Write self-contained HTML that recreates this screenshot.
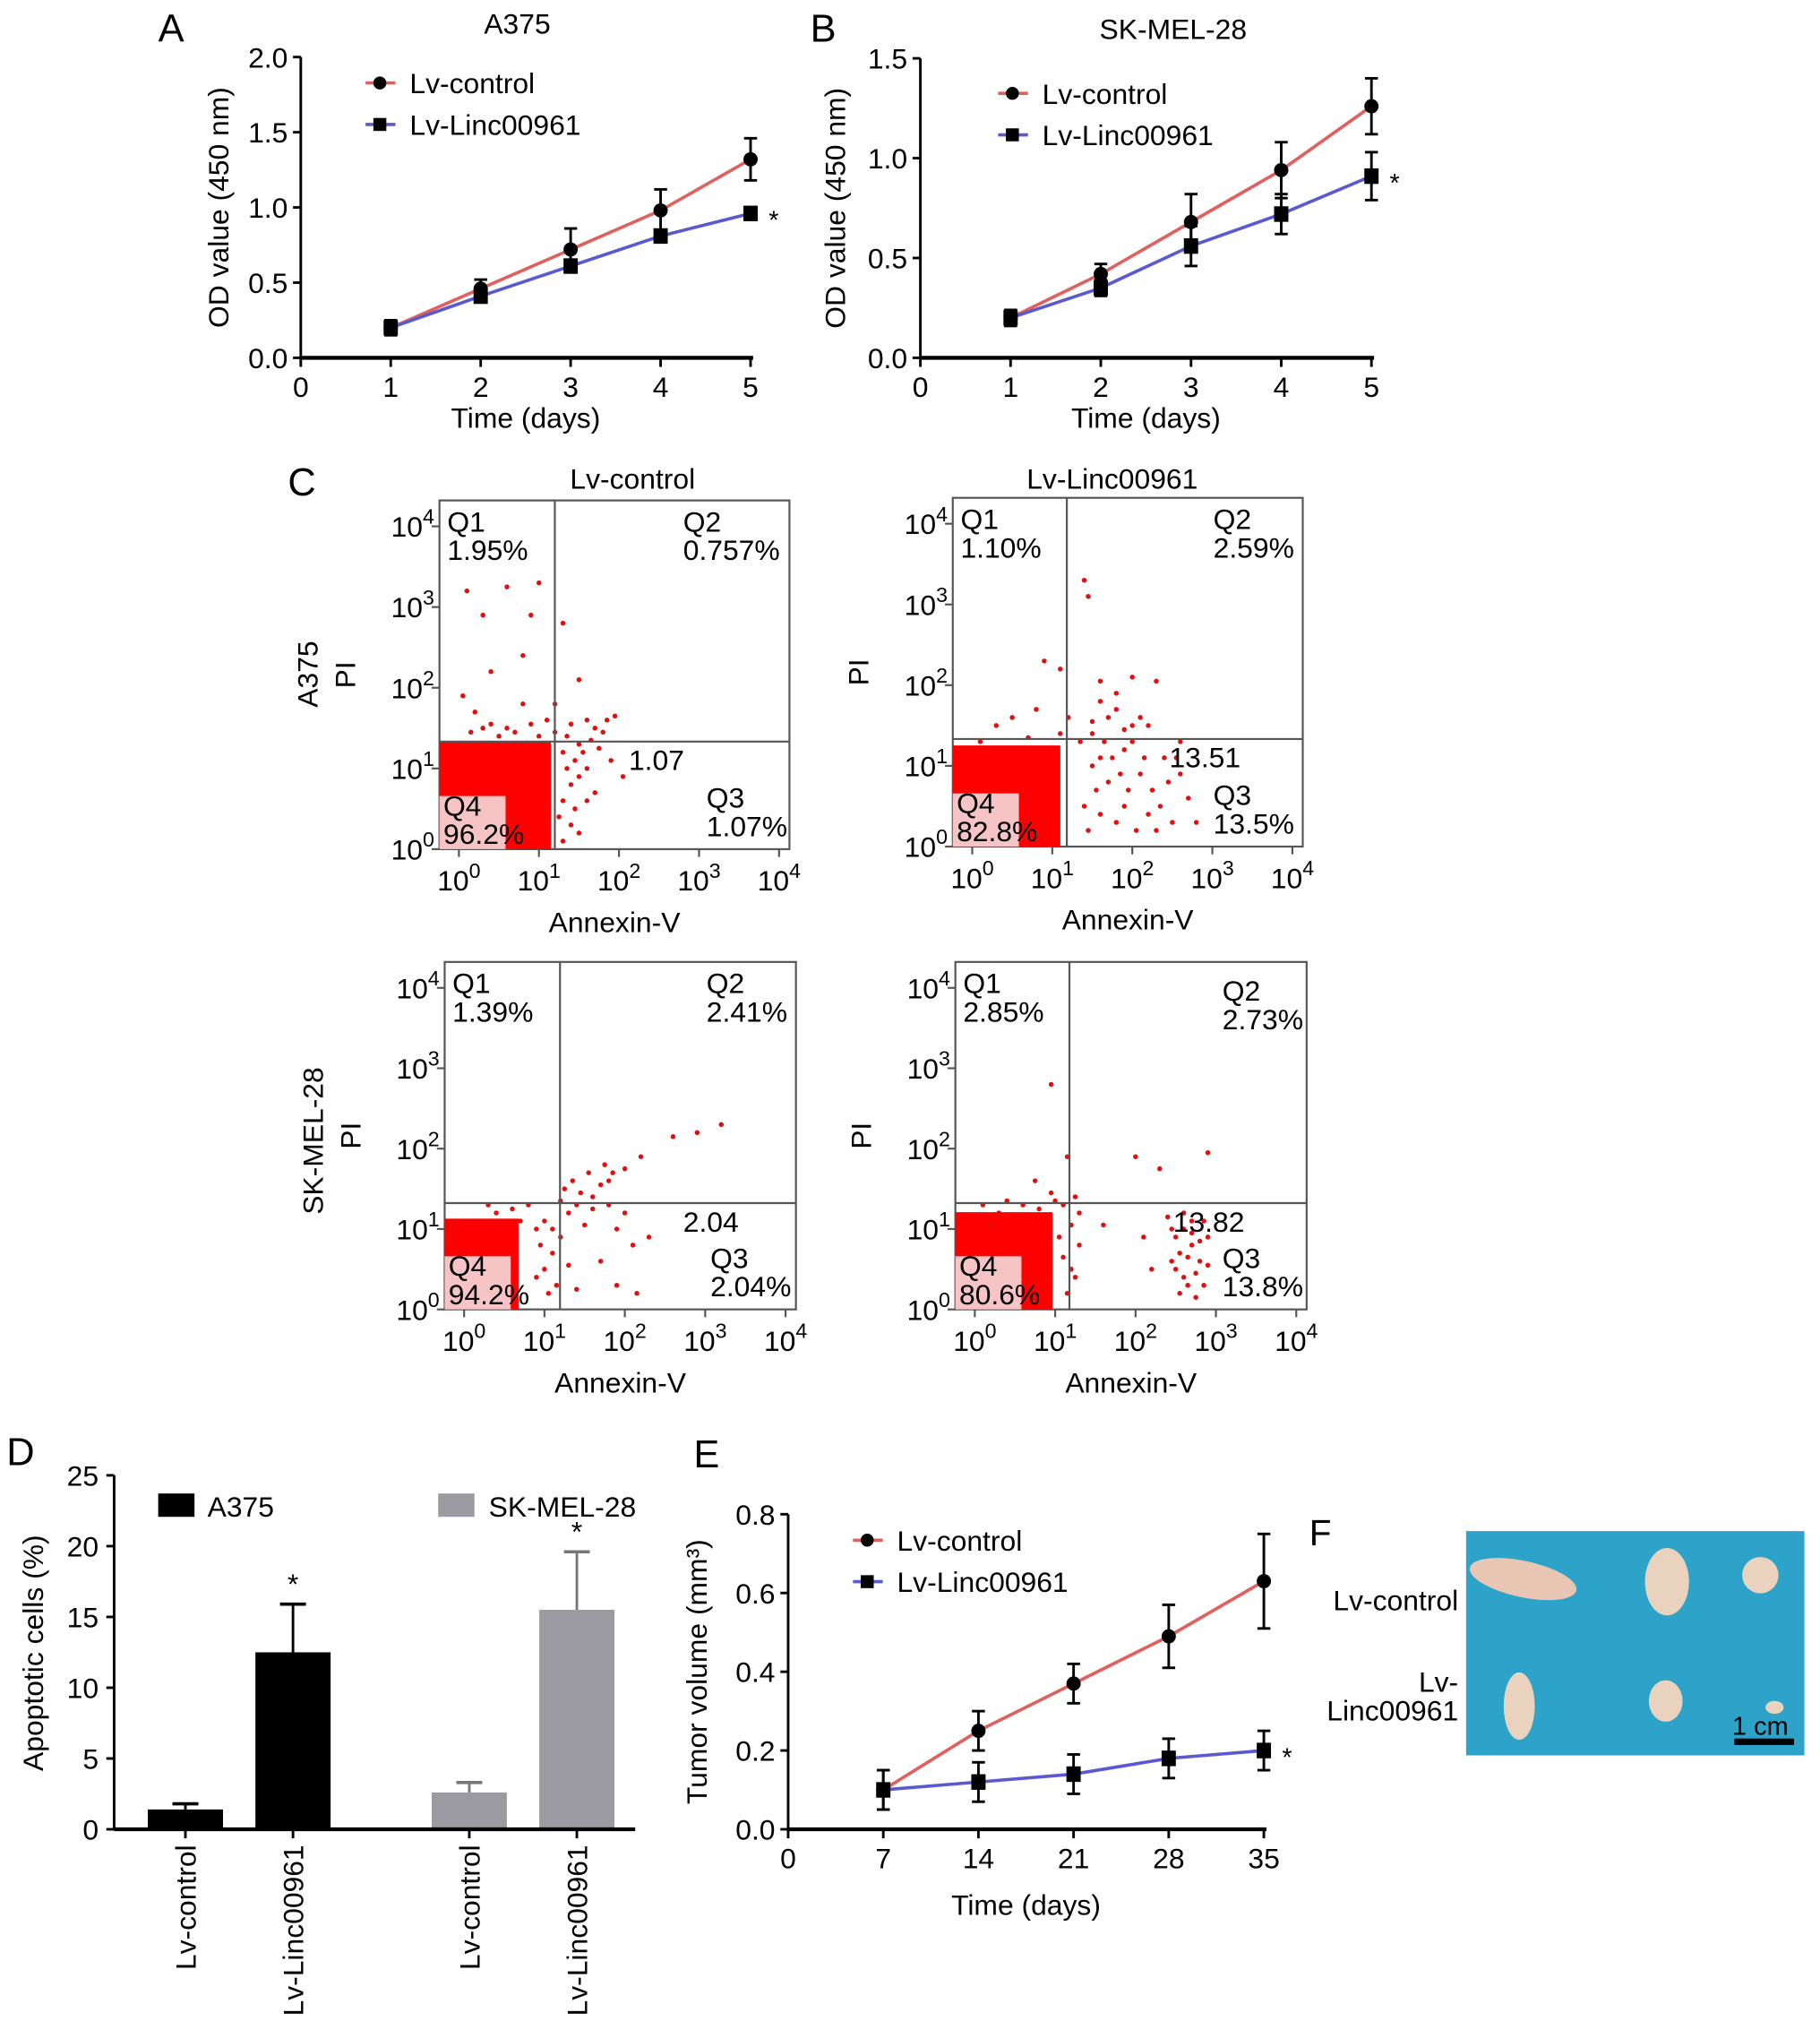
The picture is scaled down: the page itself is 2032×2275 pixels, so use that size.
<!DOCTYPE html>
<html><head><meta charset="utf-8"><style>
html,body{margin:0;padding:0;background:#fff}
svg{display:block;font-family:"Liberation Sans",sans-serif}
</style></head><body>
<svg id="fig" width="2032" height="2275" viewBox="0 0 1404 1572">
<g id="root"></g>
</svg>
<script>
// ===== Panel A data =====
const aDays=[1,2,3,4,5];
const aCtrl=[0.2,0.46,0.72,0.98,1.32];
const aCtrlErr=[0.05,0.06,0.14,0.14,0.14];
const aLinc=[0.2,0.41,0.61,0.81,0.96];
const aLincErr=[0.04,0.04,0.04,0.04,0.03];
const aYTicks=["0.0","0.5","1.0","1.5","2.0"];
// ===== Panel B data =====
const bCtrl=[0.2,0.42,0.68,0.94,1.26];
const bCtrlErr=[0.04,0.05,0.14,0.14,0.14];
const bLinc=[0.2,0.35,0.56,0.72,0.91];
const bLincErr=[0.04,0.04,0.1,0.1,0.12];
const bYTicks=["0.0","0.5","1.0","1.5"];
// ===== Panel D data =====
const dCats=["Lv-control","Lv-Linc00961","Lv-control","Lv-Linc00961"];
const dVals=[1.4,12.5,2.6,15.5];
const dErr=[0.4,3.4,0.7,4.1];
const dYTicks=["0","5","10","15","20","25"];
// ===== Panel E data =====
const eDays=[7,14,21,28,35];
const eCtrl=[0.1,0.25,0.37,0.49,0.63];
const eCtrlErr=[0.05,0.05,0.05,0.08,0.12];
const eLinc=[0.1,0.12,0.14,0.18,0.2];
const eLincErr=[0.05,0.05,0.05,0.05,0.05];
const eYTicks=["0.0","0.2","0.4","0.6","0.8"];
// ===== Panel C scatter (log10 annexin, log10 PI) =====
const c1Pts=[[0.1,3.2],[0.3,2.9],[0.6,3.25],[1.0,3.3],[0.9,2.9],[0.4,2.2],[0.8,2.4],[1.3,2.8],[1.5,2.1],[1.2,1.8],[1.4,1.55],[1.6,1.6],[1.7,1.5],[1.8,1.45],[1.5,1.3],[1.9,1.1],[2.05,0.9],[1.6,0.6],[0.2,1.7],[0.6,1.5],[1.1,1.6],[1.35,1.0],[1.5,0.2],[0.05,1.9],[1.25,0.4],
 [1.3,1.2],[1.35,1.4],[1.4,0.8],[1.45,1.1],[1.3,0.6],[1.5,0.9],[1.55,1.2],[1.65,1.35],[1.75,1.25],[1.85,1.6],[1.95,1.65],[1.4,0.3],[1.3,0.1],[1.45,0.5],[0.3,1.5],[0.7,1.45],[0.9,1.55],[1.0,1.4],[0.5,1.4],[1.2,1.45],[0.15,1.45],[0.8,1.8],[0.4,1.55],[1.6,1.0],[1.7,0.7]];
const c2Pts=[[1.4,3.3],[1.45,3.1],[0.9,2.3],[1.1,2.2],[1.6,2.05],[2.0,2.1],[2.3,2.05],[1.8,1.7],[2.2,1.5],[1.5,1.4],[1.9,1.2],[2.4,1.1],[2.6,0.9],[2.7,0.6],[2.5,0.3],[2.2,0.4],[1.7,0.8],[1.9,0.5],[2.1,0.9],[2.3,0.2],[1.6,1.1],[0.5,1.6],[0.8,1.7],[2.8,0.3],[2.6,1.3],
 [1.5,1.0],[1.55,0.7],[1.6,0.4],[1.65,1.3],[1.75,1.1],[1.8,0.3],[1.85,0.9],[1.95,0.7],[2.0,1.3],[2.05,0.2],[2.15,1.1],[2.25,0.7],[2.35,0.5],[2.45,0.8],[2.55,1.1],[1.45,0.2],[1.5,1.55],[1.7,1.6],[1.9,1.45],[2.1,1.6],[1.6,1.8],[1.8,1.9],[2.0,1.5],[1.35,1.3],[1.4,0.5],[0.3,1.5],[0.7,1.35],[1.1,1.4],[1.2,1.6],[0.1,1.3]];
const c3Pts=[[3.2,2.3],[2.9,2.2],[2.6,2.15],[2.2,1.9],[2.0,1.75],[1.8,1.6],[1.6,1.4],[1.4,1.3],[1.3,1.2],[1.5,1.05],[1.9,1.0],[2.1,0.8],[1.7,0.6],[1.9,0.3],[2.15,0.2],[1.4,0.25],[0.8,1.3],[1.2,1.35],[1.1,0.7],[0.9,0.4],[1.3,0.55],[2.3,0.9],
 [1.0,1.1],[1.1,1.0],[1.2,0.9],[1.25,1.5],[1.35,1.6],[1.45,1.45],[1.55,1.7],[1.7,1.55],[1.75,1.8],[1.85,1.7],[0.95,0.8],[1.0,0.5],[1.05,0.2],[0.9,1.0],[0.6,1.25],[0.4,1.2],[0.7,1.1],[1.15,0.3],[0.3,1.3],[1.6,1.25],[1.8,1.3],[2.0,1.2]];
const c4Pts=[[0.95,2.8],[1.15,1.9],[0.75,1.6],[0.95,1.45],[2.0,1.9],[2.3,1.75],[2.9,1.95],[1.6,1.05],[2.4,1.15],[2.6,1.0],[2.7,0.8],[2.8,0.6],[2.5,0.5],[2.65,0.3],[2.9,0.9],[2.75,0.15],[2.55,0.7],[2.45,1.0],[2.1,0.9],[1.3,1.2],[0.4,1.35],[0.2,1.05],[1.25,0.4],[2.2,0.5],[2.85,1.1],
 [2.6,0.4],[2.7,1.1],[2.5,0.9],[2.8,0.85],[2.65,0.65],[2.75,0.45],[2.55,0.2],[2.85,0.3],[2.6,1.2],[2.7,0.95],[2.45,0.6],[2.9,0.55],[1.1,1.3],[1.2,1.05],[1.3,0.8],[1.2,0.5],[1.15,0.2],[1.25,1.4],[0.6,1.3],[0.8,1.25],[1.0,1.35],[0.3,1.2],[0.1,1.3],[1.05,0.9],[1.1,0.65]];

const NS="http://www.w3.org/2000/svg";
const root=document.getElementById('root');
function el(tag,attrs,parent,txt){const e=document.createElementNS(NS,tag);for(const k in attrs)e.setAttribute(k,attrs[k]);if(txt!==undefined)e.textContent=txt;(parent||root).appendChild(e);return e;}
function T(x,y,s,size,opts,name){opts=opts||{};const a={x:x,y:y,'font-size':size,fill:opts.fill||'#000'};if(opts.anchor)a['text-anchor']=opts.anchor;if(opts.rot!==undefined)a.transform='rotate('+opts.rot+' '+x+' '+y+')';const t=el('text',a,opts.parent,s);return t;}
function P(x,y,exp,anchor,parent,name){const t=el('text',{x:x,y:y,'font-size':22,'text-anchor':anchor,fill:'#000'},parent);
  el('tspan',{},t,'10');el('tspan',{dy:-10,'font-size':16},t,String(exp));return t;}
function L(x1,y1,x2,y2,w,c,p){return el('line',{x1:x1,y1:y1,x2:x2,y2:y2,stroke:c||'#000','stroke-width':w||2},p);}

// ===== line chart helper =====
function lineChart(cfg){
  const g=el('g',{});
  const sx=v=>cfg.x0+(v-cfg.xmin)/(cfg.xmax-cfg.xmin)*(cfg.x1-cfg.x0);
  const sy=v=>cfg.y0-(v/cfg.ymax)*(cfg.y0-cfg.y1);
  L(cfg.x0,cfg.y0,cfg.x0,cfg.y1,2,'#000',g);
  L(cfg.x0,cfg.y0,cfg.x1+2,cfg.y0,3,'#000',g);
  cfg.yticks.forEach((t,i)=>{const v=i*cfg.ymax/(cfg.yticks.length-1);const y=sy(v);L(cfg.x0-6,y,cfg.x0,y,2,'#000',g);T(cfg.x0-10,y+8,t,22,{anchor:'end',parent:g},'y-tick-label');});
  cfg.xticks.forEach(v=>{const x=sx(v);L(x,cfg.y0,x,cfg.y0+7,2,'#000',g);T(x,cfg.y0+30,String(v),22,{anchor:'middle',parent:g},'x-tick-label');});
  [[cfg.ctrl,cfg.ctrlErr,'#e0605e','circle','series-lv-control'],[cfg.linc,cfg.lincErr,'#5a5ad0','square','series-lv-linc00961']].forEach(s=>{
    const sg=el('g',{},g);
    const pts=cfg.xs.map((d,i)=>sx(d)+','+sy(s[0][i])).join(' ');
    el('polyline',{points:pts,fill:'none',stroke:s[2],'stroke-width':2.5},sg);
    cfg.xs.forEach((d,i)=>{const x=sx(d),y=sy(s[0][i]),e=s[1][i];
      L(x,sy(s[0][i]+e),x,sy(s[0][i]-e),2,'#000',sg);L(x-5,sy(s[0][i]+e),x+5,sy(s[0][i]+e),2,'#000',sg);L(x-5,sy(s[0][i]-e),x+5,sy(s[0][i]-e),2,'#000',sg);
      let m;if(s[3]==='circle')m=el('circle',{cx:x,cy:y,r:5.5,fill:'#000'},sg);else m=el('rect',{x:x-5.5,y:y-6,width:11,height:12,fill:'#000'},sg);
      });
  });
  const lg=el('g',{},g);
  L(cfg.lx,cfg.ly,cfg.lx+23,cfg.ly,2.5,'#e0605e',lg);el('circle',{cx:cfg.lx+11,cy:cfg.ly,r:5,fill:'#000'},lg);
  T(cfg.lx+34,cfg.ly+8,'Lv-control',22,{parent:lg},'legend-entry');
  L(cfg.lx,cfg.ly+32,cfg.lx+23,cfg.ly+32,2.5,'#5a5ad0',lg);el('rect',{x:cfg.lx+6,y:cfg.ly+27,width:10,height:10,fill:'#000'},lg);
  T(cfg.lx+34,cfg.ly+40,'Lv-Linc00961',22,{parent:lg},'legend-entry');
  const lx=sx(cfg.xs[4]);T(lx+14,sy(cfg.linc[4])+12,'*',20,{parent:g},'significance-star');
  T(cfg.ylx,(cfg.y0+cfg.y1)/2,cfg.ylabel,22,{anchor:'middle',rot:-90,parent:g},'y-axis-title');
  T((cfg.x0+cfg.x1)/2,cfg.y0+cfg.xtdy,'Time (days)',22,{anchor:'middle',parent:g},'x-axis-title');
  return g;
}
lineChart({name:'panel-a-chart',x0:232,x1:579,xmin:0,xmax:5,y0:276,y1:44,ymax:2.0,yticks:aYTicks,xticks:[0,1,2,3,4,5],xs:aDays,ctrl:aCtrl,ctrlErr:aCtrlErr,linc:aLinc,lincErr:aLincErr,lx:282,ly:64,ylx:176,ylabel:'OD value (450 nm)',xtdy:54});
lineChart({name:'panel-b-chart',x0:710,x1:1058,xmin:0,xmax:5,y0:276,y1:45,ymax:1.5,yticks:bYTicks,xticks:[0,1,2,3,4,5],xs:aDays,ctrl:bCtrl,ctrlErr:bCtrlErr,linc:bLinc,lincErr:bLincErr,lx:770,ly:72,ylx:652,ylabel:'OD value (450 nm)',xtdy:54});
lineChart({name:'panel-e-chart',x0:608,x1:975,xmin:0,xmax:35,y0:1411,y1:1168,ymax:0.8,yticks:eYTicks,xticks:[0,7,14,21,28,35],xs:eDays,ctrl:eCtrl,ctrlErr:eCtrlErr,linc:eLinc,lincErr:eLincErr,lx:658,ly:1188,ylx:545,ylabel:'Tumor volume (mm³)',xtdy:66});
T(399,26,'A375',22,{anchor:'middle'},'chart-title-a375');
T(905,30,'SK-MEL-28',22,{anchor:'middle'},'chart-title-sk-mel-28');
T(122,32,'A',30,{},'panel-label-a');T(625,32,'B',30,{},'panel-label-b');
T(222,382,'C',30,{},'panel-label-c');T(5,1130,'D',30,{},'panel-label-d');
T(535,1132,'E',30,{},'panel-label-e');T(1010,1192,'F',28,{},'panel-label-f');

// ===== Flow plots =====
function flow(cfg){
  const g=el('g',{});
  const ax0=cfg.x0+15,ax1=cfg.x1-8,ay0=cfg.y1,ay1=cfg.y0+20;
  const sx=v=>ax0+v/4*(ax1-ax0), sy=v=>ay0-v/4*(ay0-ay1);
  el('rect',{x:cfg.x0,y:cfg.y0,width:cfg.x1-cfg.x0,height:cfg.y1-cfg.y0,fill:'#fff',stroke:'#555','stroke-width':1.5},g);
  el('rect',{x:cfg.x0,y:cfg.dy,width:cfg.dx-cfg.x0,height:cfg.y1-cfg.dy,fill:'#f00'},g);
  cfg.pts.forEach(p=>{const c=el('circle',{cx:sx(p[0]),cy:sy(p[1]),r:1.9,fill:'#e01010'},g);});
  el('rect',{x:cfg.x0,y:cfg.y1-41,width:51,height:41,fill:'#f6c4c4'},g);
  L(cfg.gx,cfg.y0,cfg.gx,cfg.y1,1.5,'#555',g);L(cfg.x0,cfg.gy,cfg.x1,cfg.gy,1.5,'#555',g);
  for(let i=0;i<5;i++){P(cfg.x0-4,sy(i)+8,i,'end',g,'y-tick-label');P(sx(i),cfg.y1+32,i,'middle',g,'x-tick-label');
    L(sx(i),cfg.y1,sx(i),cfg.y1+6,1.5,'#555',g);L(cfg.x0-6,sy(i),cfg.x0,sy(i),1.5,'#555',g);}
  T((cfg.x0+cfg.x1)/2,cfg.y1+64,'Annexin-V',22,{anchor:'middle',parent:g},'x-axis-title');
  T(cfg.x0-65,(cfg.y0+cfg.y1)/2,'PI',22,{anchor:'middle',rot:-90,parent:g},'y-axis-title');
  const x0=cfg.x0,y0=cfg.y0,y1=cfg.y1;
  T(x0+6,y0+24,'Q1',22,{parent:g},'quadrant-label');T(x0+6,y0+46,cfg.q1,22,{parent:g},'quadrant-value');
  T(cfg.q2x,y0+24+cfg.q2dy,'Q2',22,{parent:g},'quadrant-label');T(cfg.q2x,y0+46+cfg.q2dy,cfg.q2,22,{parent:g},'quadrant-value');
  T(cfg.cx,cfg.gy+22,cfg.c,22,{parent:g},'gate-value');
  T(cfg.q3x,y1-32,'Q3',22,{parent:g},'quadrant-label');T(cfg.q3x,y1-10,cfg.q3,22,{parent:g},'quadrant-value');
  T(x0+3,y1-26,'Q4',22,{parent:g},'quadrant-label');T(x0+3,y1-4,cfg.q4,22,{parent:g},'quadrant-value');
}
flow({name:'flow-a375-control',x0:339,x1:609,y0:386,y1:655,gx:428,gy:572,dx:425,dy:572,pts:c1Pts,q1:'1.95%',q2x:527,q2:'0.757%',q2dy:0,c:'1.07',cx:485,q3x:545,q3:'1.07%',q4:'96.2%'});
flow({name:'flow-a375-linc',x0:735,x1:1005,y0:384,y1:653,gx:823,gy:570,dx:818,dy:575,pts:c2Pts,q1:'1.10%',q2x:936,q2:'2.59%',q2dy:0,c:'13.51',cx:902,q3x:936,q3:'13.5%',q4:'82.8%'});
flow({name:'flow-sk-control',x0:343,x1:614,y0:742,y1:1010,gx:432,gy:928,dx:400,dy:940,pts:c3Pts,q1:'1.39%',q2x:545,q2:'2.41%',q2dy:0,c:'2.04',cx:527,q3x:548,q3:'2.04%',q4:'94.2%'});
flow({name:'flow-sk-linc',x0:737,x1:1008,y0:742,y1:1010,gx:825,gy:928,dx:812,dy:935,pts:c4Pts,q1:'2.85%',q2x:943,q2:'2.73%',q2dy:6,c:'13.82',cx:905,q3x:943,q3:'13.8%',q4:'80.6%'});
T(488,377,'Lv-control',22,{anchor:'middle'},'column-title-lv-control');
T(858,377,'Lv-Linc00961',22,{anchor:'middle'},'column-title-lv-linc00961');
T(245,520,'A375',22,{anchor:'middle',rot:-90},'row-label-a375');
T(249,880,'SK-MEL-28',22,{anchor:'middle',rot:-90},'row-label-sk-mel-28');

// ===== Panel D bars =====
(function(){
  const g=el('g',{});
  const x0=88,y0=1411,y1=1138,ymax=25,cx=[143,226,362,445],bw=58,cols=['#000','#000','#9a9aa0','#9a9aa0'];
  const sy=v=>y0-v/ymax*(y0-y1);
  L(x0,y0,x0,y1,2,'#000',g);
  dYTicks.forEach((t,i)=>{const y=sy(i*5);L(x0-6,y,x0,y,2,'#000',g);T(x0-12,y+8,t,22,{anchor:'end',parent:g},'y-tick-label');});
  dVals.forEach((v,i)=>{const r=el('rect',{x:cx[i]-bw/2,y:sy(v),width:bw,height:y0-sy(v),fill:cols[i]},g);
    const t=sy(v+dErr[i]);L(cx[i],sy(v),cx[i],t,2,cols[i]==='#000'?'#000':'#777',g);L(cx[i]-10,t,cx[i]+10,t,2.5,cols[i]==='#000'?'#000':'#777',g);
    if(i%2===1)T(cx[i],t-8,'*',22,{anchor:'middle',parent:g},'significance-star');
    L(cx[i],y0,cx[i],y0+7,2,'#000',g);
    T(cx[i]+8,y0+12,dCats[i],22,{anchor:'end',rot:-90,parent:g},'x-tick-label');});
  L(x0,y0,490,y0,3,'#000',g);
  el('rect',{x:122,y:1152,width:28,height:18,fill:'#000'},g);T(160,1170,'A375',22,{parent:g},'legend-entry');
  el('rect',{x:338,y:1152,width:28,height:18,fill:'#9a9aa0'},g);T(377,1170,'SK-MEL-28',22,{parent:g},'legend-entry');
  T(33,1275,'Apoptotic cells (%)',22,{anchor:'middle',rot:-90,parent:g},'y-axis-title');
})();

// ===== Panel F photo =====
(function(){
  const g=el('g',{});
  el('rect',{x:1131,y:1181,width:261,height:173,fill:'#2ea3c9'},g);
  const b='#e9d3bf';
  el('ellipse',{cx:1175,cy:1218,rx:42,ry:14,fill:'#e8c6b3',transform:'rotate(12 1175 1218)'},g);
  el('ellipse',{cx:1286,cy:1220,rx:17,ry:26,fill:b},g);
  el('ellipse',{cx:1358,cy:1215,rx:14,ry:14,fill:b},g);
  el('ellipse',{cx:1172,cy:1316,rx:12,ry:26,fill:b},g);
  el('ellipse',{cx:1285,cy:1312,rx:13,ry:16,fill:b},g);
  el('ellipse',{cx:1369,cy:1317,rx:7,ry:5,fill:b},g);
  T(1358,1338,'1 cm',20,{anchor:'middle',parent:g},'scale-bar-label');
  el('rect',{x:1338,y:1341,width:46,height:5,fill:'#000'},g);
  T(1125,1242,'Lv-control',22,{anchor:'end'},'row-label-lv-control');
  T(1125,1305,'Lv-',22,{anchor:'end'},'row-label-lv-linc00961');
  T(1125,1327,'Linc00961',22,{anchor:'end'},'row-label-lv-linc00961-2');
})();
</script>
</body></html>
